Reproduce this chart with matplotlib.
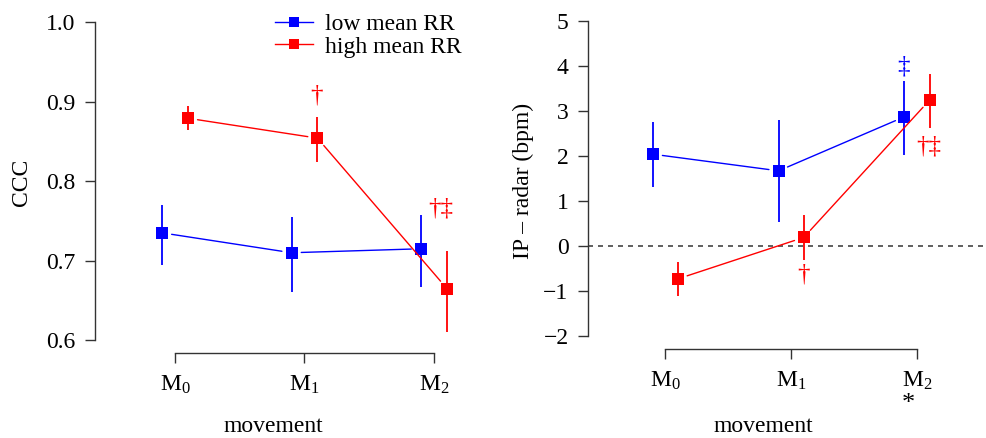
import numpy as np
import matplotlib
matplotlib.use("Agg")
import matplotlib.pyplot as plt
import matplotlib.transforms as mtransforms

plt.rcParams['font.family'] = ['Liberation Serif', 'DejaVu Serif']
plt.rcParams['mathtext.fontset'] = 'custom'
plt.rcParams['mathtext.rm'] = 'Liberation Serif'
plt.rcParams['mathtext.it'] = 'Liberation Serif:italic'
plt.rcParams['font.size'] = 17

movements = [1, 2, 3]
tick_labels = [r'M$_0$', r'M$_1$', r'M$_2$']
series_names = ['low mean RR', 'high mean RR']

# CCC panel
ccc_low = [0.735, 0.710, 0.715]
ccc_low_lo = [0.694, 0.661, 0.667]
ccc_low_hi = [0.770, 0.755, 0.757]
ccc_high = [0.879, 0.854, 0.665]
ccc_high_lo = [0.864, 0.824, 0.611]
ccc_high_hi = [0.894, 0.880, 0.712]

# IP - radar panel
diff_low = [2.04, 1.67, 2.87]
diff_low_lo = [1.30, 0.53, 2.02]
diff_low_hi = [2.75, 2.79, 3.67]
diff_high = [-0.73, 0.19, 3.24]
diff_high_lo = [-1.11, -0.30, 2.62]
diff_high_hi = [-0.36, 0.69, 3.82]

BLUE = '#0000FF'
RED = '#FF0000'
AXC = '#333333'
off = 0.1

fig = plt.figure(figsize=(9.86, 4.38), dpi=100)
ax1 = fig.add_axes([0.0963, 0.194, 0.4158, 0.785])
ax2 = fig.add_axes([0.5963, 0.204, 0.4026, 0.777])


def draw_series(ax, xs, ys, lo, hi, color, label):
    # lines with a small gap around the points (R type="b")
    for i in range(len(xs) - 1):
        ax.annotate('', xy=(xs[i + 1], ys[i + 1]), xytext=(xs[i], ys[i]),
                    arrowprops=dict(arrowstyle='-', color=color, lw=1.0,
                                    shrinkA=7, shrinkB=7))
    ax.vlines(xs, lo, hi, color=color, lw=1.3)
    ax.plot(xs, ys, ls='none', marker='s', ms=8.5, color=color, mew=0)
    h, = ax.plot([], [], color=color, lw=1.0, marker='s', ms=6.5, mew=0, label=label)
    return h


def style_axes(ax, ylim, ybounds, yticks, ylabels, xlim):
    ax.set_xlim(*xlim)
    ax.set_ylim(*ylim)
    for s in ['top', 'right']:
        ax.spines[s].set_visible(False)
    ax.spines['left'].set_bounds(*ybounds)
    ax.spines['bottom'].set_bounds(1, 3)
    for s in ['left', 'bottom']:
        ax.spines[s].set_color(AXC)
        ax.spines[s].set_linewidth(1.0)
    ax.set_yticks(yticks)
    ax.set_yticklabels(ylabels)
    ax.set_xticks(movements)
    ax.set_xticklabels(tick_labels)
    ax.tick_params(axis='both', length=7, width=1.0, color=AXC, labelsize=17)
    ax.tick_params(axis='y', pad=7)
    ax.tick_params(axis='x', pad=8)


x_low = [m - off for m in movements]
x_high = [m + off for m in movements]

# left panel
h1 = draw_series(ax1, x_low, ccc_low, ccc_low_lo, ccc_low_hi, BLUE, series_names[0])
h2 = draw_series(ax1, x_high, ccc_high, ccc_high_lo, ccc_high_hi, RED, series_names[1])
cticks = [0.6, 0.7, 0.8, 0.9, 1.0]
style_axes(ax1, (0.584, 1.016), (0.6, 1.0), cticks, ['%.1f' % t for t in cticks],
           (0.382, 3.548))
ax1.text(2.095, 0.908, '\u2020', color=RED, ha='center', va='center', fontsize=18)
ax1.text(3.05, 0.766, '\u2020\u2021', color=RED, ha='center', va='center', fontsize=18)
ax1.legend(handles=[h1, h2], loc='upper left', bbox_to_anchor=(0.439, 0.988),
           frameon=False, borderpad=0, borderaxespad=0, handlelength=1.6,
           handletextpad=0.5, labelspacing=0.05, fontsize=17)

# right panel
draw_series(ax2, x_low, diff_low, diff_low_lo, diff_low_hi, BLUE, series_names[0])
draw_series(ax2, x_high, diff_high, diff_high_lo, diff_high_hi, RED, series_names[1])
ax2.axhline(0, color='#444444', lw=1.2, ls=(0, (3, 3)), zorder=0)
dticks = list(range(-2, 6))
style_axes(ax2, (-2.28, 5.28), (-2, 5), dticks,
           ['\u2212%d' % -t if t < 0 else '%d' % t for t in dticks],
           (0.385, 3.54))
ax2.text(2.89, 3.98, '\u2021', color=BLUE, ha='center', va='center', fontsize=18)
ax2.text(2.10, -0.64, '\u2020', color=RED, ha='center', va='center', fontsize=18)
ax2.text(3.09, 2.21, '\u2020\u2021', color=RED, ha='center', va='center', fontsize=18)
trans = mtransforms.blended_transform_factory(ax2.transData, fig.transFigure)
ax2.text(2.93, 1 - 404 / 438, '*', transform=trans, ha='center', va='center', fontsize=19)

# axis titles
fig.text(22 / 986, 1 - 182 / 438, 'CCC', rotation=90, ha='center', va='center', fontsize=17)
fig.text(523 / 986, 1 - 181 / 438, 'IP \u2013 radar (bpm)', rotation=90,
         ha='center', va='center', fontsize=17)
fig.text(273 / 986, 1 - 427 / 438, 'movement', ha='center', va='center', fontsize=17)
fig.text(763 / 986, 1 - 427 / 438, 'movement', ha='center', va='center', fontsize=17)

fig.savefig('out.png', dpi=100)
